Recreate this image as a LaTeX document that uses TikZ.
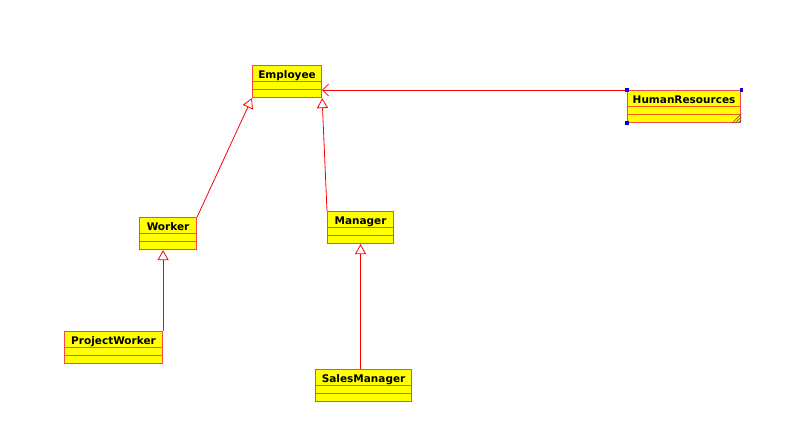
\documentclass[tikz,border=0pt]{standalone}
\usepackage{fontspec}
\setmainfont{DejaVu Sans}
\usepackage{tikz}
\usetikzlibrary{arrows.meta, positioning, calc}

\definecolor{ClassRed}{RGB}{250,70,70}
\definecolor{DivOrange}{RGB}{255,90,20}
\definecolor{ClassFill}{RGB}{255,255,0}
\definecolor{MarkBlue}{RGB}{0,0,230}

\begin{document}
\begin{tikzpicture}[
  x=1pt, y=-1pt,
  umlclass/.style={
    draw=ClassRed, fill=ClassFill, line width=1.1pt,
    inner xsep=2pt, inner ysep=2pt,
    text height=10.5pt, text depth=17.5pt,
    minimum width=#1, anchor=north west,
    font=\fontsize{10.5}{12}\selectfont\bfseries,
    path picture={
      \foreach \dy in {16,24}
        \draw[DivOrange, line width=1pt]
          ([yshift=-\dy pt]path picture bounding box.north west) --
          ([yshift=-\dy pt]path picture bounding box.north east);
    }
  },
  gen/.style={-{Triangle[open, length=10pt, width=11pt, fill=white]}, draw=red, line width=0.8pt},
  assoc/.style={-{Straight Barb[length=6pt, width=12pt]}, draw=red, line width=0.8pt}
]
\useasboundingbox (0,0) rectangle (788,446);

% Classes
\node[umlclass=69pt]  (emp) at (252,65)  {Employee};
\node[umlclass=113pt] (hr)  at (627,90)  {HumanResources};
\node[umlclass=57pt]  (wrk) at (139,217) {Worker};
\node[umlclass=66pt]  (mgr) at (327,211) {Manager};
\node[umlclass=98pt]  (pw)  at (64,331)  {ProjectWorker};
\node[umlclass=96pt]  (sm)  at (315,369) {SalesManager};

% Generalizations
\draw[gen] (wrk.north east) -- (emp.south west);
\draw[gen] (mgr.north west) -- (emp.south east);
\draw[gen] (pw.north east) -- (pw.north east |- wrk.south);
\draw[gen] (sm.north -| mgr.south) -- (mgr.south);

% Association
\draw[assoc] (hr.north west) -- (hr.north west -| emp.east);

% Selection marks on HumanResources
\foreach \c in {north west, north east, south west}
  \fill[MarkBlue] (hr.\c) ++(-1.6,-1.6) rectangle ++(3.2,3.2);
\foreach \d in {3,6,9}
  \draw[black!70, line width=0.5pt] ($(hr.south east)+(-\d,0)$) -- ($(hr.south east)+(0,-\d)$);

\end{tikzpicture}
\end{document}
